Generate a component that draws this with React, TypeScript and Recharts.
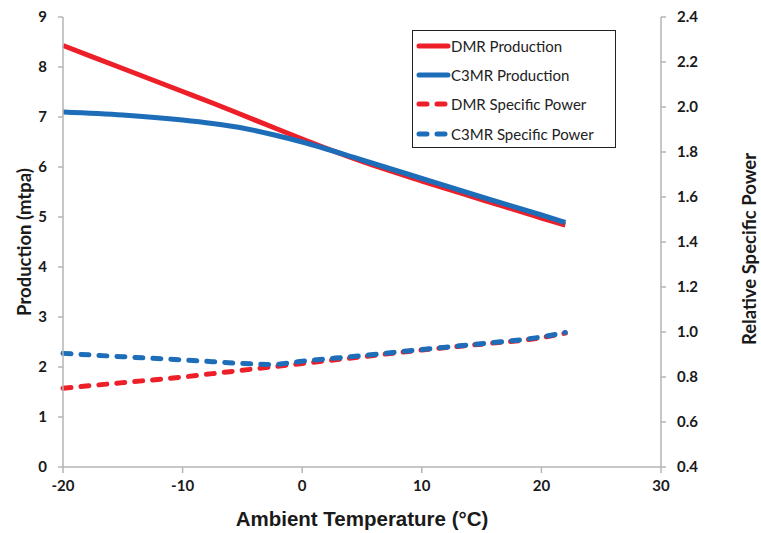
import React from "react"
import { LineChart, Line, XAxis, YAxis, Legend, Label } from "recharts"

// ambient temperature (°C)
const temps = [-20, -15, -10, -7.5, -5, -2.5, 0, 5, 10, 15, 20, 22]
// production (mtpa), left axis
const dmrProduction = [8.43, 7.97, 7.51, 7.28, 7.04, 6.8, 6.56, 6.11, 5.72, 5.35, 4.98, 4.84]
const c3mrProduction = [7.1, 7.04, 6.94, 6.87, 6.78, 6.65, 6.5, 6.14, 5.77, 5.4, 5.04, 4.89]
// relative specific power, right axis
const dmrSpecificPower = [0.75, 0.775, 0.8, 0.815, 0.83, 0.845, 0.86, 0.89, 0.92, 0.946, 0.975, 0.995]
const c3mrSpecificPower = [0.905, 0.89, 0.876, 0.868, 0.86, 0.856, 0.87, 0.895, 0.922, 0.948, 0.978, 0.998]

const xTicks = [-20, -10, 0, 10, 20, 30]
const leftTicks = [0, 1, 2, 3, 4, 5, 6, 7, 8, 9]
const rightTicks = [0.4, 0.6, 0.8, 1.0, 1.2, 1.4, 1.6, 1.8, 2.0, 2.2, 2.4]

const data = temps.map((t, i) => ({
  t,
  dmrProd: dmrProduction[i],
  c3mrProd: c3mrProduction[i],
  dmrSp: dmrSpecificPower[i],
  c3mrSp: c3mrSpecificPower[i],
}))

const RED = "#ED2029"
const BLUE = "#1E6DB8"
const AXIS = "#B4B4B4"
const TICK_FONT = { fill: "#1a1a1a", fontSize: 15, fontWeight: 700, fontFamily: "Lato" }
const TITLE_FONT = { fontFamily: "Lato", fontWeight: 700, fontSize: 18.5, fill: "#1a1a1a" }

const legendItems = [
  { name: "DMR Production", color: RED, dashed: false },
  { name: "C3MR Production", color: BLUE, dashed: false },
  { name: "DMR Specific Power", color: RED, dashed: true },
  { name: "C3MR Specific Power", color: BLUE, dashed: true },
]

const ChartLegend = () => (
  <div
    style={{
      border: "1.5px solid #222",
      background: "#fff",
      width: 204,
      height: 118,
      boxSizing: "border-box",
      padding: "0 0 0 3px",
    }}
  >
    {legendItems.map((item) => (
      <div key={item.name} style={{ display: "flex", alignItems: "center", height: 29.3 }}>
        <svg width={35} height={10}>
          <line
            x1={3}
            y1={5}
            x2={32}
            y2={5}
            stroke={item.color}
            strokeWidth={5}
            strokeLinecap="round"
            strokeDasharray={item.dashed ? "8 10" : undefined}
          />
        </svg>
        <span style={{ fontFamily: "Lato", fontSize: 15, color: "#222" }}>{item.name}</span>
      </div>
    ))}
  </div>
)

export default function App() {
  return (
    <div style={{ position: "absolute", left: 0, top: 0, width: 761, height: 533, background: "#fff" }}>
      <LineChart width={761} height={533} data={data} margin={{ top: 17, right: 0, bottom: 0, left: 0 }}>
        <XAxis
          dataKey="t"
          type="number"
          domain={[-20, 30]}
          ticks={xTicks}
          interval={0}
          stroke={AXIS}
          strokeWidth={1.5}
          tickSize={6}
          tickMargin={7}
          tick={TICK_FONT}
          height={66}
        >
          <Label
            content={({ viewBox }: any) => (
              <text
                x={viewBox.x + viewBox.width / 2}
                y={viewBox.y + 59}
                textAnchor="middle"
                style={{ fontFamily: "Liberation Sans", fontWeight: 700, fontSize: 20.5, fill: "#1a1a1a" }}
              >
                Ambient Temperature (°C)
              </text>
            )}
          />
        </XAxis>
        <YAxis
          yAxisId="left"
          domain={[0, 9]}
          ticks={leftTicks}
          interval={0}
          width={63}
          stroke={AXIS}
          strokeWidth={1.5}
          tickSize={5}
          tickMargin={11}
          tick={TICK_FONT}
        >
          <Label
            content={({ viewBox }: any) => {
              const x = viewBox.x + 24
              const y = viewBox.y + viewBox.height / 2
              return (
                <text
                  x={x}
                  y={y}
                  transform={`rotate(-90, ${x}, ${y})`}
                  textAnchor="middle"
                  dominantBaseline="central"
                  style={TITLE_FONT}
                >
                  Production (mtpa)
                </text>
              )
            }}
          />
        </YAxis>
        <YAxis
          yAxisId="right"
          orientation="right"
          domain={[0.4, 2.4]}
          ticks={rightTicks}
          interval={0}
          width={100}
          stroke={AXIS}
          strokeWidth={1.5}
          tickSize={5}
          tickMargin={11}
          tick={TICK_FONT}
          tickFormatter={(v: number) => v.toFixed(1)}
        >
          <Label
            content={({ viewBox }: any) => {
              const x = viewBox.x + 88
              const y = viewBox.y + viewBox.height / 2 + 7
              return (
                <text
                  x={x}
                  y={y}
                  transform={`rotate(-90, ${x}, ${y})`}
                  textAnchor="middle"
                  dominantBaseline="central"
                  style={TITLE_FONT}
                >
                  Relative Specific Power
                </text>
              )
            }}
          />
        </YAxis>
        <Legend
          layout="vertical"
          align="center"
          verticalAlign="middle"
          content={() => <ChartLegend />}
          wrapperStyle={{ position: "absolute", left: 412, top: 30, width: 204, height: 118 }}
        />
        <Line yAxisId="right" type="monotone" dataKey="dmrSp" name="DMR Specific Power" stroke={RED} strokeWidth={5} strokeDasharray="8 10" strokeLinecap="round" dot={false} isAnimationActive={false} />
        <Line yAxisId="right" type="monotone" dataKey="c3mrSp" name="C3MR Specific Power" stroke={BLUE} strokeWidth={5} strokeDasharray="8 10" strokeLinecap="round" dot={false} isAnimationActive={false} />
        <Line yAxisId="left" type="monotone" dataKey="dmrProd" name="DMR Production" stroke={RED} strokeWidth={5} dot={false} isAnimationActive={false} />
        <Line yAxisId="left" type="monotone" dataKey="c3mrProd" name="C3MR Production" stroke={BLUE} strokeWidth={5} dot={false} isAnimationActive={false} />
      </LineChart>
    </div>
  )
}
